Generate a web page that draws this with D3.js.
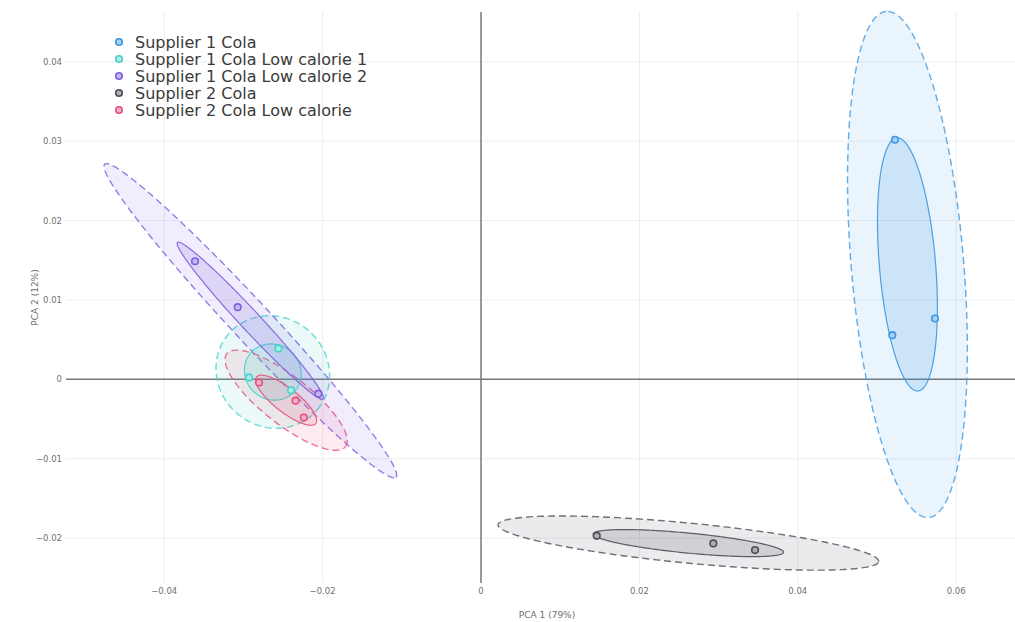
<!DOCTYPE html>
<html>
<head>
<meta charset="utf-8">
<script src="https://cdn.jsdelivr.net/npm/d3@7"></script>
<style>
  html, body { margin: 0; padding: 0; background: #fff; }
  svg { display: block; }
</style>
</head>
<body>
<svg id="chart" width="1015" height="622"></svg>
<script>
// PCA scores of five cola products (three replicates each)
const groups = [
  "Supplier 1 Cola",
  "Supplier 1 Cola Low calorie 1",
  "Supplier 1 Cola Low calorie 2",
  "Supplier 2 Cola",
  "Supplier 2 Cola Low calorie"
];
const colors = ["#3b97e3", "#46d3c9", "#7d5fe0", "#4d4d57", "#e5527f"];

const pc1Scores = [
  [0.05227, 0.05732, 0.05193],
  [-0.02559, -0.02929, -0.02399],
  [-0.03611, -0.03072, -0.02054],
  [0.01461, 0.02933, 0.03460],
  [-0.02803, -0.02342, -0.02237]
];
const pc2Scores = [
  [0.03019, 0.00767, 0.00557],
  [0.00390, 0.00025, -0.00138],
  [0.01488, 0.00909, -0.00180],
  [-0.01971, -0.02067, -0.02151],
  [-0.00038, -0.00268, -0.00482]
];

// inner confidence ellipse of each group (PCA units, angle in degrees);
// the outer dashed ellipse is twice as large
const ellipseMajor = [0.01600, 0.00368, 0.01348, 0.01207, 0.00475];
const ellipseMinor = [0.00355, 0.00345, 0.00125, 0.00126, 0.00151];
const ellipseAngle = [94.8, -40, -47, -5.5, -38];
const outerFactor = 2;

const xTicks = [-0.04, -0.02, 0, 0.02, 0.04, 0.06];
const yTicks = [-0.02, -0.01, 0, 0.01, 0.02, 0.03, 0.04];
const xTitle = "PCA 1 (79%)";
const yTitle = "PCA 2 (12%)";

const svg = d3.select("#chart");
const plot = { left: 66, right: 1015, top: 12, bottom: 583 };

const x = d3.scaleLinear()
  .domain([-0.05240, 0.06742])
  .range([plot.left, plot.right]);
const y = d3.scaleLinear()
  .domain([-0.02566, 0.04629])
  .range([plot.bottom, plot.top]);

const tickFont = "'DejaVu Sans', Verdana, sans-serif";
const fmt = v => v === 0 ? "0" : d3.format("")(v);

// grid
const grid = svg.append("g");
grid.selectAll("line.vx").data(xTicks.filter(d => d !== 0)).join("line")
  .attr("x1", d => x(d)).attr("x2", d => x(d))
  .attr("y1", plot.top).attr("y2", plot.bottom)
  .attr("stroke", "#eeeeee").attr("stroke-width", 1);
grid.selectAll("line.hy").data(yTicks.filter(d => d !== 0)).join("line")
  .attr("x1", plot.left).attr("x2", plot.right)
  .attr("y1", d => y(d)).attr("y2", d => y(d))
  .attr("stroke", "#eeeeee").attr("stroke-width", 1);

// zero lines
svg.append("line")
  .attr("x1", x(0)).attr("x2", x(0))
  .attr("y1", plot.top).attr("y2", plot.bottom)
  .attr("stroke", "#777").attr("stroke-width", 1.5);
svg.append("line")
  .attr("x1", plot.left).attr("x2", plot.right)
  .attr("y1", y(0)).attr("y2", y(0))
  .attr("stroke", "#777").attr("stroke-width", 1.5);

// tick labels
svg.append("g").selectAll("text").data(xTicks).join("text")
  .attr("x", d => x(d)).attr("y", 594)
  .attr("text-anchor", "middle")
  .attr("font-family", tickFont).attr("font-size", 8.5)
  .attr("fill", "#6f6f6f")
  .text(fmt);
svg.append("g").selectAll("text").data(yTicks).join("text")
  .attr("x", 62).attr("y", d => y(d) + 3)
  .attr("text-anchor", "end")
  .attr("font-family", tickFont).attr("font-size", 8.5)
  .attr("fill", "#6f6f6f")
  .text(fmt);

// axis titles
svg.append("text")
  .attr("x", x(0) + 66).attr("y", 618)
  .attr("text-anchor", "middle")
  .attr("font-family", tickFont).attr("font-size", 9)
  .attr("fill", "#6f6f6f")
  .text(xTitle);
svg.append("text")
  .attr("transform", `translate(38,${(plot.top + plot.bottom) / 2}) rotate(-90)`)
  .attr("text-anchor", "middle")
  .attr("font-family", tickFont).attr("font-size", 9)
  .attr("fill", "#6f6f6f")
  .text(yTitle);

// ellipse outline around the group mean, sampled and mapped through the scales
function ellipsePath(i, k) {
  const mx = d3.mean(pc1Scores[i]), my = d3.mean(pc2Scores[i]);
  const a = k * ellipseMajor[i], b = k * ellipseMinor[i];
  const ang = ellipseAngle[i] * Math.PI / 180;
  const c = Math.cos(ang), s = Math.sin(ang);
  const pts = d3.range(0, 360, 1.5).map(deg => {
    const t = deg * Math.PI / 180;
    const u = a * Math.cos(t), v = b * Math.sin(t);
    return [x(mx + u * c - v * s), y(my + u * s + v * c)];
  });
  return d3.line().curve(d3.curveLinearClosed)(pts);
}

const layers = svg.append("g");
const outer = layers.append("g");
const inner = layers.append("g");
const marks = layers.append("g");

groups.forEach((g, i) => {
  const col = colors[i];
  const light = d3.interpolateRgb(col, "#ffffff")(0.55);
  outer.append("path")
    .attr("d", ellipsePath(i, outerFactor))
    .attr("fill", col).attr("fill-opacity", 0.11)
    .attr("stroke", col).attr("stroke-opacity", 0.8)
    .attr("stroke-width", 1.4)
    .attr("stroke-dasharray", "7,4");
  inner.append("path")
    .attr("d", ellipsePath(i, 1))
    .attr("fill", col).attr("fill-opacity", 0.16)
    .attr("stroke", col).attr("stroke-opacity", 0.9)
    .attr("stroke-width", 1.2);
  marks.selectAll(null).data(d3.range(pc1Scores[i].length)).join("circle")
    .attr("cx", j => x(pc1Scores[i][j]))
    .attr("cy", j => y(pc2Scores[i][j]))
    .attr("r", 3.3)
    .attr("fill", light)
    .attr("stroke", col).attr("stroke-width", 1.6);
});

// legend
const legend = svg.append("g");
groups.forEach((g, i) => {
  const col = colors[i];
  const ly = 42 + i * 17;
  legend.append("circle")
    .attr("cx", 119).attr("cy", ly).attr("r", 3.3)
    .attr("fill", d3.interpolateRgb(col, "#ffffff")(0.55))
    .attr("stroke", col).attr("stroke-width", 1.6);
  legend.append("text")
    .attr("x", 135).attr("y", ly + 5.5)
    .attr("font-family", "'DejaVu Sans', sans-serif")
    .attr("font-size", 16)
    .attr("fill", "#3a3a3a")
    .text(g);
});
</script>
</body>
</html>
